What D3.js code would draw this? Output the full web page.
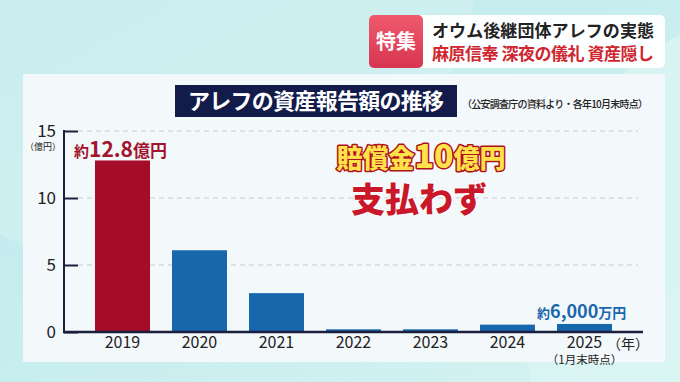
<!DOCTYPE html>
<html>
<head>
<meta charset="utf-8">
<script src="https://cdn.jsdelivr.net/npm/d3@7"></script>
<style>
  body { margin: 0; padding: 0; }
  svg { display: block; font-family: "Noto Sans CJK JP", "Noto Sans", sans-serif; }
</style>
</head>
<body>
<div id="chart"></div>
<script>
// Data
var years = ["2019", "2020", "2021", "2022", "2023", "2024", "2025"];
var assets = [12.8, 6.1, 2.9, 0.2, 0.2, 0.55, 0.6];   // 億円
var yTicks = [0, 5, 10, 15];

var svgWidth = 680;
var svgHeight = 382;

var svg = d3.select("#chart")
    .append("svg")
    .attr("width", svgWidth)
    .attr("height", svgHeight);

// Background
var defs = svg.append("defs");
var bg = defs.append("linearGradient").attr("id", "bg")
    .attr("x1", "0").attr("y1", "0").attr("x2", "1").attr("y2", "1");
bg.append("stop").attr("offset", "0%").attr("stop-color", "#bde8ec");
bg.append("stop").attr("offset", "100%").attr("stop-color", "#d4f3f1");
svg.append("rect").attr("width", svgWidth).attr("height", svgHeight).attr("fill", "url(#bg)");
svg.append("circle").attr("cx", 150).attr("cy", -60).attr("r", 330).attr("fill", "#d2f1f2").attr("opacity", 0.6);
svg.append("circle").attr("cx", 820).attr("cy", 300).attr("r", 300).attr("fill", "#ddf6f4").attr("opacity", 0.7);

// Header box
var head = svg.append("g");
head.append("rect").attr("x", 369).attr("y", 15).attr("width", 296).attr("height", 53)
    .attr("rx", 5).attr("fill", "#ffffff").attr("opacity", 0.95);
var red = defs.append("linearGradient").attr("id", "redbox")
    .attr("x1", "0").attr("y1", "0").attr("x2", "0").attr("y2", "1");
red.append("stop").attr("offset", "0%").attr("stop-color", "#ee5a6e");
red.append("stop").attr("offset", "100%").attr("stop-color", "#d83550");
head.append("rect").attr("x", 369).attr("y", 15).attr("width", 54).attr("height", 53)
    .attr("rx", 5).attr("fill", "url(#redbox)");
head.append("text").attr("x", 396).attr("y", 49).attr("text-anchor", "middle")
    .attr("fill", "#fff").attr("font-size", 20).attr("font-weight", 700).text("特集");
head.append("text").attr("x", 432).attr("y", 37)
    .attr("fill", "#222").attr("font-size", 17).attr("font-weight", 700)
    .attr("textLength", 222).text("オウム後継団体アレフの実態");
head.append("text").attr("x", 432).attr("y", 60)
    .attr("fill", "#d0262f").attr("font-size", 17).attr("font-weight", 700)
    .attr("textLength", 222).text("麻原信奉 深夜の儀礼 資産隠し");

// Panel
svg.append("rect").attr("x", 23).attr("y", 74).attr("width", 642).attr("height", 288)
    .attr("fill", "#f3f8fa");

// Title
svg.append("rect").attr("x", 175).attr("y", 85).attr("width", 282).attr("height", 32)
    .attr("fill", "#121b4a");
svg.append("text").attr("x", 316).attr("y", 109).attr("text-anchor", "middle")
    .attr("fill", "#fff").attr("font-size", 22).attr("font-weight", 700)
    .attr("textLength", 256).text("アレフの資産報告額の推移");
svg.append("text").attr("x", 462).attr("y", 108)
    .attr("fill", "#222").attr("font-size", 10).attr("font-weight", 500)
    .attr("textLength", 186).text("（公安調査庁の資料より・各年10月末時点）");

// Scales
var x = d3.scaleBand()
    .domain(years)
    .range([84, 623])
    .paddingInner(0.286)
    .paddingOuter(0.143);

var y = d3.scaleLinear()
    .domain([0, 15])
    .range([332, 131]);

// Gridlines
svg.append("g").selectAll("line")
    .data(yTicks.filter(d => d > 0))
    .enter()
    .append("line")
    .attr("x1", 78).attr("x2", 638)
    .attr("y1", d => y(d)).attr("y2", d => y(d))
    .attr("stroke", "#c8ccd2").attr("stroke-width", 1).attr("stroke-dasharray", "5,4");

// Bars
svg.append("g").selectAll("rect")
    .data(assets)
    .enter()
    .append("rect")
    .attr("x", (d, i) => x(years[i]))
    .attr("y", d => y(d))
    .attr("width", x.bandwidth())
    .attr("height", d => y(0) - y(d))
    .attr("fill", (d, i) => i === 0 ? "#a60b28" : "#1767ad");

// Y axis
var leftAxis = d3.axisRight(y).tickValues(yTicks).tickSize(14).tickFormat(d => "");
var yAxis = svg.append("g").attr("transform", "translate(64,0)").call(leftAxis);
yAxis.select(".domain").remove();
yAxis.selectAll(".tick line").attr("stroke", "#1a1f3d").attr("stroke-width", 2);
svg.append("line").attr("x1", 64).attr("x2", 64).attr("y1", y(15) - 1).attr("y2", y(0))
    .attr("stroke", "#1a1f3d").attr("stroke-width", 2);
svg.append("g").selectAll("text")
    .data(yTicks)
    .enter()
    .append("text")
    .attr("x", 56)
    .attr("y", d => y(d) + 6)
    .attr("text-anchor", "end")
    .attr("font-size", 17)
    .attr("fill", "#222")
    .text(d => d);
svg.append("text").attr("x", 43).attr("y", 150).attr("text-anchor", "middle")
    .attr("font-size", 9).attr("fill", "#222").text("（億円）");

// X axis
var bottomAxis = d3.axisBottom(x).tickSize(0).tickPadding(5);
var xAxis = svg.append("g").attr("transform", `translate(0, ${y(0)})`).call(bottomAxis);
xAxis.select(".domain").remove();
xAxis.selectAll("text").attr("font-size", 16).attr("fill", "#222")
    .attr("font-family", "Noto Sans CJK JP, sans-serif");
svg.append("line").attr("x1", 63).attr("x2", 643).attr("y1", y(0)).attr("y2", y(0))
    .attr("stroke", "#1a1f3d").attr("stroke-width", 2.5);
svg.append("text").attr("x", 628).attr("y", 349).attr("text-anchor", "middle")
    .attr("font-size", 14).attr("fill", "#222").text("（年）");
svg.append("text").attr("x", x("2025") + x.bandwidth() / 2).attr("y", 364).attr("text-anchor", "middle")
    .attr("font-size", 11.5).attr("fill", "#222").text("（1月末時点）");

// Value labels
var lab1 = svg.append("text").attr("x", 74).attr("y", 157).attr("fill", "#a3142e").attr("font-weight", 700);
lab1.append("tspan").attr("font-size", 15).text("約");
lab1.append("tspan").attr("font-size", 21).text("12.8");
lab1.append("tspan").attr("font-size", 17).text("億円");

var lab2 = svg.append("text").attr("x", 537).attr("y", 318).attr("fill", "#1a67ad").attr("font-weight", 700);
lab2.append("tspan").attr("font-size", 13).text("約");
lab2.append("tspan").attr("font-size", 18).text("6,000");
lab2.append("tspan").attr("font-size", 14).text("万円");

// Callout
var call = svg.append("text").attr("x", 421).attr("y", 168).attr("text-anchor", "middle")
    .attr("font-weight", 900).attr("fill", "#ffe24a")
    .attr("stroke", "#b01020").attr("stroke-width", 3).attr("paint-order", "stroke")
    .attr("stroke-linejoin", "round");
call.append("tspan").attr("font-size", 26).text("賠償金");
call.append("tspan").attr("font-size", 32).text("10");
call.append("tspan").attr("font-size", 26).text("億円");
svg.append("text").attr("x", 419).attr("y", 212).attr("text-anchor", "middle")
    .attr("font-size", 34).attr("font-weight", 900).attr("fill", "#c8182a")
    .attr("stroke", "#fff").attr("stroke-width", 2).attr("paint-order", "stroke")
    .text("支払わず");
</script>
</body>
</html>
